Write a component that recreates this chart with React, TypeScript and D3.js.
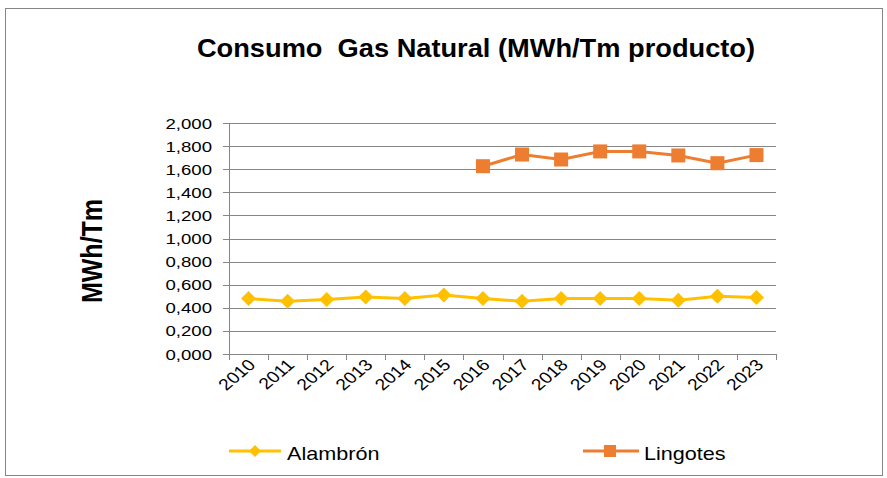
import React from "react";
import * as d3 from "d3";

const years = ["2010","2011","2012","2013","2014","2015","2016","2017","2018","2019","2020","2021","2022","2023"];
const alambron = [0.48,0.457,0.471,0.494,0.48,0.511,0.48,0.457,0.48,0.48,0.48,0.466,0.50,0.489];
const lingotes: (number|null)[] = [null,null,null,null,null,null,1.626,1.727,1.684,1.754,1.754,1.719,1.652,1.722];
const yTicks = [0,0.2,0.4,0.6,0.8,1.0,1.2,1.4,1.6,1.8,2.0];

const W = 887, H = 478;
const left = 229, right = 776, top = 123, bottom = 354;
const FONT = "'Liberation Sans', Arial, sans-serif";
const SX = 1.2;

export default function App() {
  const x = d3.scaleBand<string>().domain(years).range([left, right]);
  const y = d3.scaleLinear().domain([0, 2]).range([bottom, top]);
  const cx = (yr: string) => (x(yr) as number) + x.bandwidth() / 2;
  const fmtTick = (v: number) => {
    const [i, d] = v.toFixed(3).split(".");
    return i + "," + d;
  };
  const lineA = d3.line<number>().x((_, i) => cx(years[i])).y(v => y(v));
  const lineL = d3.line<number|null>().defined(v => v != null).x((_, i) => cx(years[i])).y(v => y(v as number));
  const diamond = (px: number, py: number, r = 7.5) => `M${px},${py - r}L${px + r},${py}L${px},${py + r}L${px - r},${py}Z`;
  const ORANGE = "#ED7D31", GOLD = "#FFC000";
  return (
    <svg width={W} height={H} style={{ position: "absolute", left: 0, top: 0 }}>
      <rect x={0} y={0} width={W} height={H} fill="#fff" />
      <rect x={5.5} y={8.5} width={877} height={467} fill="none" stroke="#868686" strokeWidth={1} />
      <text transform={`translate(476,57) scale(1.09,1)`} textAnchor="middle" fontFamily={FONT} fontWeight="bold" fontSize={25} fill="#000" style={{ whiteSpace: "pre" }}>Consumo  Gas Natural (MWh/Tm producto)</text>
      <text transform={`translate(102,251) scale(${SX},1) rotate(-90)`} textAnchor="middle" fontFamily={FONT} fontWeight="bold" fontSize={25} fill="#000">MWh/Tm</text>
      {yTicks.map(t => (
        <g key={t}>
          <line x1={left} x2={right} y1={Math.round(y(t)) + 0.5} y2={Math.round(y(t)) + 0.5} stroke="#868686" strokeWidth={1} />
          <line x1={left - 6} x2={left} y1={Math.round(y(t)) + 0.5} y2={Math.round(y(t)) + 0.5} stroke="#868686" />
          <text transform={`translate(212,${y(t) + 5.5}) scale(${SX},1)`} textAnchor="end" fontFamily={FONT} fontSize={15.5} fill="#000">{fmtTick(t)}</text>
        </g>
      ))}
      <line x1={left + 0.5} x2={left + 0.5} y1={top} y2={bottom} stroke="#868686" />
      {years.concat(["end"]).map((yr, i) => {
        const px = Math.round(left + i * x.bandwidth()) + 0.5;
        return <line key={yr} x1={px} x2={px} y1={bottom} y2={bottom + 6} stroke="#868686" />;
      })}
      {years.map(yr => (
        <text key={yr} transform={`translate(${cx(yr) + 8},${bottom + 12}) scale(${SX},1) rotate(-45)`} textAnchor="end" fontFamily={FONT} fontSize={16} fill="#000">{yr}</text>
      ))}
      <path d={lineA(alambron) || ""} fill="none" stroke={GOLD} strokeWidth={3} />
      {alambron.map((v, i) => <path key={i} d={diamond(cx(years[i]), y(v))} fill={GOLD} />)}
      <path d={lineL(lingotes) || ""} fill="none" stroke={ORANGE} strokeWidth={3} />
      {lingotes.map((v, i) => v == null ? null : <rect key={i} x={cx(years[i]) - 7} y={y(v) - 7} width={14} height={14} fill={ORANGE} />)}
      <line x1={229} x2={281} y1={451} y2={451} stroke={GOLD} strokeWidth={3} />
      <path d={diamond(255, 451, 6)} fill={GOLD} />
      <text transform={`translate(287,460) scale(${SX},1)`} fontFamily={FONT} fontSize={18} fill="#000">Alambrón</text>
      <line x1={583} x2={639} y1={451} y2={451} stroke={ORANGE} strokeWidth={3} />
      <rect x={604} y={445} width={12} height={12} fill={ORANGE} />
      <text transform={`translate(644,460) scale(${SX},1)`} fontFamily={FONT} fontSize={18} fill="#000">Lingotes</text>
    </svg>
  );
}
